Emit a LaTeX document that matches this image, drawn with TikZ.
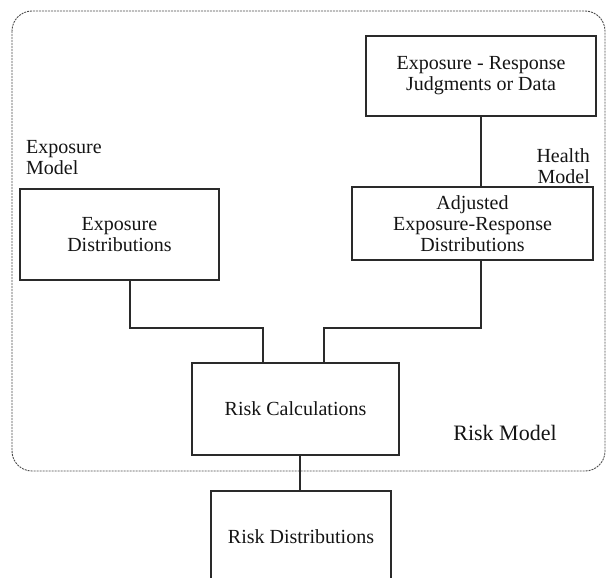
\documentclass[tikz,border=0pt]{standalone}
\usepackage{fontspec}
\setmainfont{Liberation Serif}
\begin{document}
\begin{tikzpicture}[x=1pt,y=-1pt,
  box/.style={draw=linecol,line width=2pt,align=center,inner sep=0pt,
    font=\fontsize{20}{21}\selectfont,text=textcol},
  lbl/.style={inner sep=0pt,font=\fontsize{20}{21}\selectfont,text=textcol},
  conn/.style={draw=linecol,line width=2pt},
  region/.style={draw=gray!60!black,line width=0.9pt,dash pattern=on 2pt off 1pt,rounded corners=20pt}]
\definecolor{linecol}{HTML}{2A2A2A}
\definecolor{textcol}{HTML}{141414}
\useasboundingbox (0,0) rectangle (609,577);
\clip (0,0) rectangle (609,577);
\draw[region] (12,11) rectangle (605,471);
\node[box,minimum width=230pt,minimum height=80pt] (top) at (481,76) {Exposure - Response\\Judgments or Data};
\node[box,minimum width=241pt,minimum height=73pt] (adj) at (472.5,223.5) {Adjusted\\Exposure-Response\\Distributions};
\node[box,minimum width=199pt,minimum height=91pt] (expo) at (119.5,234.5) {Exposure\\Distributions};
\node[box,minimum width=207pt,minimum height=92pt] (calc) at (295.5,409) {Risk Calculations};
\node[box,minimum width=180pt,minimum height=91pt] (dist) at (301,536.5) {Risk Distributions};
\node[lbl,anchor=west,align=left] (expmodel) at (26,158) {Exposure\\Model};
\node[lbl,anchor=east,align=right] (healthmodel) at (590,166) {Health\\Model};
\node[lbl,font=\fontsize{22}{23}\selectfont] (riskmodel) at (505,433) {Risk Model};
\draw[conn] (top.south) -- (top.south |- adj.north);
\draw[conn] ([xshift=10.5pt]expo.south) -- ++(0,47) -| ([xshift=-32.5pt]calc.north);
\draw[conn] ([xshift=8.5pt]adj.south) -- ++(0,67) -| ([xshift=28.5pt]calc.north);
\draw[conn] ([xshift=4.5pt]calc.south) -- ([xshift=4.5pt]calc.south |- dist.north);
\end{tikzpicture}
\end{document}
